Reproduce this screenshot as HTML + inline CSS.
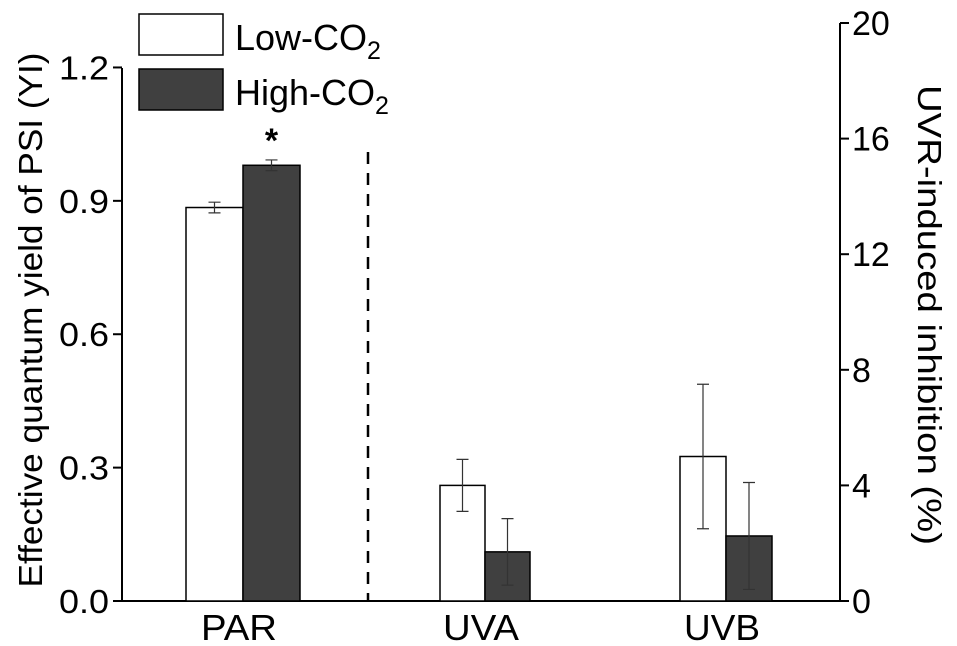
<!DOCTYPE html>
<html><head><meta charset="utf-8"><style>
body{margin:0;background:#fff}
svg{display:block;font-family:"Liberation Sans",Arial,sans-serif}
</style></head><body>
<svg id="chart" width="957" height="646" viewBox="0 0 957 646"></svg>
<script>
const categories=["PAR","UVA","UVB"];
const lowValues=[0.885,4.0,5.0];
const highValues=[0.98,1.7,2.25];
const lowErr=[0.012,0.9,2.5];
const highErr=[0.012,1.15,1.85];
const leftTicks=[0.0,0.3,0.6,0.9,1.2];
const leftTickLabels=["0.0","0.3","0.6","0.9","1.2"];
const rightTicks=[0,4,8,12,16,20];
const svg=document.getElementById('chart');
const NS='http://www.w3.org/2000/svg';
const X0=122,X1=840,Y0=601,YT=23;
const yL=v=>Y0-(v/1.3)*(Y0-YT);
const yR=v=>Y0-(v/20)*(Y0-YT);
const groupCenters=[243,485,726];
const barWidths=[57,45,46];
const xC=i=>groupCenters[i];
function mk(tag,attrs,txt){const e=document.createElementNS(NS,tag);for(const k in attrs)e.setAttribute(k,attrs[k]);if(txt!==undefined)e.textContent=txt;svg.appendChild(e);return e;}
let a=mk('line',{x1:X0,y1:YT+45,x2:X0,y2:Y0,stroke:'#000','stroke-width':2});

a=mk('line',{x1:X1,y1:YT,x2:X1,y2:Y0,stroke:'#000','stroke-width':2});

a=mk('line',{x1:X0,y1:Y0,x2:X1+8,y2:Y0,stroke:'#000','stroke-width':2});

leftTicks.forEach((v,i)=>{
  const y=yL(v);
  let t=mk('line',{x1:X0-9,y1:y,x2:X0,y2:y,stroke:'#000','stroke-width':2});
  
  t=mk('text',{x:X0-13,y:y+12,'text-anchor':'end','font-size':33,textLength:50,lengthAdjust:'spacingAndGlyphs'},leftTickLabels[i]);
  
});
rightTicks.forEach(v=>{
  const y=yR(v);
  let t=mk('line',{x1:X1,y1:y,x2:X1+9,y2:y,stroke:'#000','stroke-width':2});
  
  t=mk('text',{x:X1+12,y:y+12,'font-size':34},String(v));
  
});
categories.forEach((c,i)=>{
  const sc=i===0?yL:yR;
  const BW=barWidths[i];
  const lv=lowValues[i],hv=highValues[i],cx=xC(i);
  let r=mk('rect',{x:cx-BW,y:sc(lv),width:BW,height:Y0-sc(lv),fill:'#fff',stroke:'#000','stroke-width':1.5});
  
  r=mk('rect',{x:cx,y:sc(hv),width:BW,height:Y0-sc(hv),fill:'#404040',stroke:'#000','stroke-width':1.5});
  
  [[cx-BW/2,lv,lowErr[i]],[cx+BW/2,hv,highErr[i]]].forEach(([ex,v,e])=>{
    const p=`M${ex},${sc(v+e)}V${sc(v-e)}M${ex-6},${sc(v+e)}H${ex+6}M${ex-6},${sc(v-e)}H${ex+6}`;
    const eb=mk('path',{d:p,stroke:'#333','stroke-width':1.2,fill:'none'});
    
  });
  const l=mk('text',{x:cx-4,y:640,'text-anchor':'middle','font-size':36,textLength:76,lengthAdjust:'spacingAndGlyphs'},c);
  
});
let s=mk('text',{x:xC(0)+barWidths[0]/2,y:152,'text-anchor':'middle','font-size':34,'font-weight':'bold'},'*');

s=mk('line',{x1:368,y1:152,x2:368,y2:Y0,stroke:'#000','stroke-width':2.5,'stroke-dasharray':'12,9'});

let g=mk('rect',{x:139,y:14,width:84,height:41,fill:'#fff',stroke:'#000','stroke-width':1.5});

g=mk('rect',{x:139,y:69,width:84,height:41,fill:'#404040',stroke:'#000','stroke-width':1.5});

g=mk('text',{x:235,y:50,'font-size':36},'');
g.innerHTML='Low-CO<tspan dy="9" font-size="25">2</tspan>';

g=mk('text',{x:235,y:105,'font-size':36},'');
g.innerHTML='High-CO<tspan dy="9" font-size="25">2</tspan>';

g=mk('text',{x:0,y:0,'font-size':33,'text-anchor':'middle',textLength:535,lengthAdjust:'spacingAndGlyphs',transform:'translate(42,320) rotate(-90)'},'Effective quantum yield of PSI (YI)');

g=mk('text',{x:0,y:0,'font-size':33,'text-anchor':'middle',textLength:460,lengthAdjust:'spacingAndGlyphs',transform:'translate(918,315) rotate(90)'},'UVR-induced inhibition (%)');

</script>
</body></html>
